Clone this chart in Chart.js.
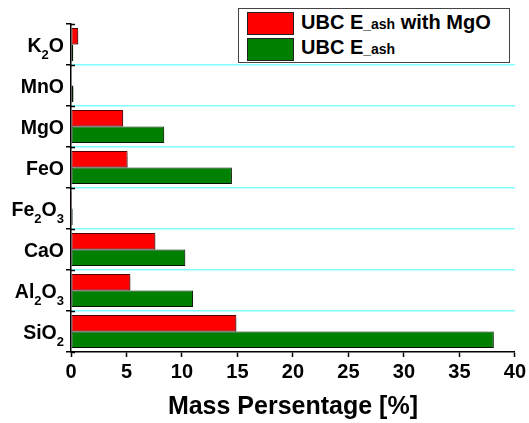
<!DOCTYPE html>
<html>
<head>
<meta charset="utf-8">
<script src="https://cdn.jsdelivr.net/npm/chart.js@4"></script>
<style>
  body { margin: 0; background: #fff; }
  #wrap {
    position: relative; width: 529px; height: 423px;
    font-family: "Liberation Sans", Arial, sans-serif; font-weight: bold; color: #000;
  }
  #chart { position: absolute; left: 0; top: 0; }
  .ylab {
    position: absolute; right: 465px; font-size: 19.5px; line-height: 20px; white-space: nowrap;
  }
  .ylab sub { font-size: 13px; line-height: 0; vertical-align: -7px; }
  #legend {
    position: absolute; left: 238px; top: 8px; width: 270px; height: 53px;
    border: 1px solid #444; background: #fff;
  }
  .sw { position: absolute; left: 8px; width: 45px; height: 21px; border: 1px solid #222; }
  .lt { position: absolute; left: 62px; font-size: 20px; line-height: 20px; white-space: nowrap; }
  .lt .sm { font-size: 14px; }
</style>
</head>
<body>
<div id="wrap">
  <canvas id="chart" width="529" height="423"></canvas>
  <div id="legend"></div>
</div>
<script>
// oxide names, "_" marks the following digit as a subscript
const categories = ['K_2O', 'MnO', 'MgO', 'FeO', 'Fe_2O_3', 'CaO', 'Al_2O_3', 'SiO_2'];

// mass percentage per oxide
const withMgO = [0.65, 0.05, 4.7, 5.1, 0.08, 7.6, 5.35, 14.9];
const ashOnly = [0.2, 0.22, 8.4, 14.5, 0.15, 10.3, 11.0, 38.1];

const seriesNames = ['UBC E_ash with MgO', 'UBC E_ash'];
const seriesColors = ['#ff0000', '#008000'];
const seriesBorders = ['#500000', '#001a00'];

const xTickValues = [0, 5, 10, 15, 20, 25, 30, 35, 40];
const xTitle = 'Mass Persentage [%]';

const FONT = '"Liberation Sans", Arial, sans-serif';
const CYAN = '#80ffff';

// soft drop shadow under the bars
const barShadow = {
    id: 'barShadow',
    beforeDatasetsDraw(chart) {
        const ctx = chart.ctx;
        ctx.save();
        ctx.shadowColor = 'rgba(0,0,0,0.28)';
        ctx.shadowOffsetX = 1.5;
        ctx.shadowOffsetY = 2;
        ctx.shadowBlur = 1;
    },
    afterDatasetsDraw(chart) {
        chart.ctx.restore();
    }
};

// category ticks cross the left axis: add the short inner half
const innerTicks = {
    id: 'innerTicks',
    afterDraw(chart) {
        const { ctx, scales: { y } } = chart;
        ctx.save();
        ctx.strokeStyle = '#000';
        ctx.lineWidth = 1.5;
        ctx.beginPath();
        for (let i = 0; i <= categories.length; i++) {
            const py = Math.round(y.getPixelForValue(i - 0.5)) + 0.5;
            ctx.moveTo(y.right, py);
            ctx.lineTo(y.right + 4, py);
        }
        ctx.stroke();
        ctx.restore();
    }
};

const chart = new Chart(document.getElementById('chart'), {
    type: 'bar',
    data: {
        labels: categories,
        datasets: seriesNames.map((name, i) => ({
            label: name,
            data: i === 0 ? withMgO : ashOnly,
            backgroundColor: seriesColors[i],
            borderColor: seriesBorders[i],
            borderWidth: 1,
            borderSkipped: false,
            categoryPercentage: 0.8,
            barPercentage: 1.0
        }))
    },
    options: {
        indexAxis: 'y',
        responsive: false,
        animation: false,
        layout: { padding: { top: 24, right: 13, left: 0, bottom: 0 } },
        plugins: { legend: { display: false }, tooltip: { enabled: false } },
        scales: {
            x: {
                min: 0,
                max: 40,
                afterBuildTicks: s => { s.ticks = xTickValues.map(v => ({ value: v })); },
                border: { color: '#000', width: 1.5 },
                grid: { drawOnChartArea: false, tickLength: 5, tickColor: '#000', tickWidth: 1.5 },
                ticks: {
                    color: '#000', padding: 3, maxRotation: 0, autoSkip: false,
                    font: { family: FONT, size: 20, weight: 'bold' }
                },
                title: {
                    display: true, text: xTitle, color: '#000',
                    font: { family: FONT, size: 25, weight: 'bold' },
                    padding: { top: 0, bottom: 1 }
                },
                afterFit: s => { s.height = 71; }
            },
            y: {
                border: { color: '#000', width: 1.5 },
                grid: {
                    offset: true,
                    color: c => (c.index === 0 || c.index === undefined) ? 'transparent' : CYAN,
                    lineWidth: 1.5,
                    tickLength: 5,
                    tickColor: '#000',
                    tickWidth: 1.5
                },
                ticks: { display: false },
                afterFit: s => { s.width = 71; }
            }
        }
    },
    plugins: [barShadow, innerTicks]
});

// category labels with subscripts, centred on each row
const wrap = document.getElementById('wrap');
const yScale = chart.scales.y;
categories.forEach((name, i) => {
    const el = document.createElement('div');
    el.className = 'ylab';
    el.innerHTML = name.replace(/_(\d)/g, '<sub>$1</sub>');
    el.style.top = (yScale.getPixelForValue(i) - 10) + 'px';
    wrap.appendChild(el);
});

// legend box
const legend = document.getElementById('legend');
seriesNames.forEach((name, i) => {
    const sw = document.createElement('div');
    sw.className = 'sw';
    sw.style.top = (3 + i * 26) + 'px';
    sw.style.background = seriesColors[i];
    legend.appendChild(sw);
    const t = document.createElement('div');
    t.className = 'lt';
    t.style.top = (3 + i * 25) + 'px';
    t.innerHTML = name.replace('_ash', '<span class="sm">_ash</span>');
    legend.appendChild(t);
});
</script>
</body>
</html>
